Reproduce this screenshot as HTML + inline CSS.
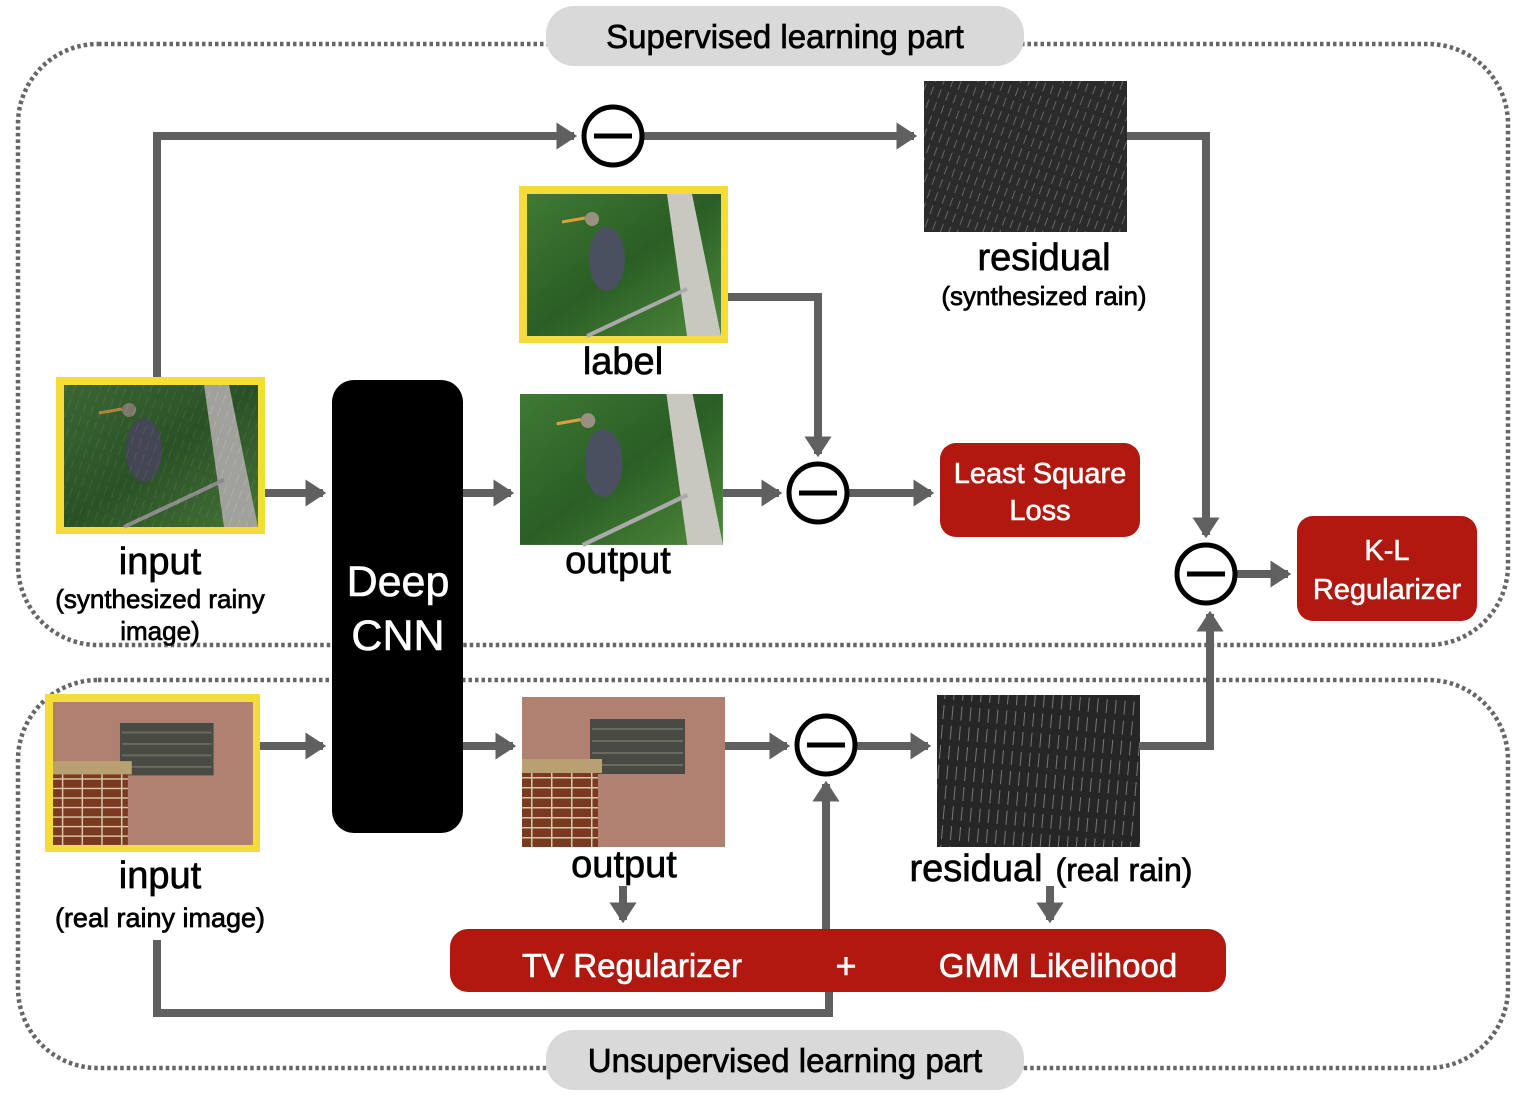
<!DOCTYPE html>
<html><head><meta charset="utf-8"><style>
html,body{margin:0;padding:0;background:#fff;}
svg{display:block;font-family:"Liberation Sans",sans-serif;}
.b{stroke:#000;stroke-width:0.7;}
.w{stroke:#fff;stroke-width:0.6;}
</style></head><body>
<svg width="1522" height="1098" viewBox="0 0 1522 1098" xmlns="http://www.w3.org/2000/svg">
<defs>
<marker id="ah" markerWidth="4" markerHeight="4" refX="2.2" refY="2" orient="auto" markerUnits="strokeWidth">
<path d="M0,0.3 L2.6,2 L0,3.7 z" fill="#606060"/></marker>
<linearGradient id="grn" x1="0" y1="0" x2="1" y2="1"><stop offset="0" stop-color="#3f7a34"/><stop offset="0.5" stop-color="#2a5e25"/><stop offset="1" stop-color="#4f8a3c"/></linearGradient>
<pattern id="rain" width="8" height="14" patternUnits="userSpaceOnUse" patternTransform="rotate(20)"><rect width="8" height="14" fill="#2b2b2b"/><line x1="3" y1="0" x2="3" y2="9" stroke="#666" stroke-width="1"/></pattern>
<pattern id="rain2" width="9" height="20" patternUnits="userSpaceOnUse" patternTransform="rotate(5)"><rect width="9" height="20" fill="#262626"/><line x1="3" y1="0" x2="3" y2="14" stroke="#777" stroke-width="1"/></pattern>
<pattern id="brick" width="20" height="10" patternUnits="userSpaceOnUse"><rect width="20" height="10" fill="#7a3a22"/><rect x="0" y="0" width="20" height="1.5" fill="#d8c8a8"/><rect x="9" y="0" width="1.5" height="10" fill="#d8c8a8"/></pattern>
<g id="bird">
<rect width="194" height="142" fill="url(#grn)"/>
<polygon points="140,0 165,0 194,142 160,142" fill="#c8c8c0"/>
<ellipse cx="80" cy="65" rx="18" ry="32" fill="#4a5060"/>
<circle cx="65" cy="25" r="7" fill="#9a9080"/>
<line x1="58" y1="24" x2="35" y2="28" stroke="#d8a040" stroke-width="3"/>
<line x1="60" y1="142" x2="160" y2="95" stroke="#aaa" stroke-width="4"/>
</g>
<g id="brickimg">
<rect width="203" height="150" fill="#b08070"/>
<rect x="68" y="22" width="95" height="55" fill="#4a4a44"/>
<g stroke="#6a6a60" stroke-width="2"><line x1="70" y1="32" x2="161" y2="32"/><line x1="70" y1="44" x2="161" y2="44"/><line x1="70" y1="56" x2="161" y2="56"/><line x1="70" y1="68" x2="161" y2="68"/></g>
<rect x="0" y="62" width="80" height="14" fill="#b8a070"/>
<rect x="0" y="76" width="76" height="74" fill="url(#brick)"/>
</g>
</defs>

<rect x="18" y="44" width="1490" height="601" rx="80" fill="none" stroke="#666" stroke-width="4.5" stroke-dasharray="3.5 3"/>
<rect x="18" y="680" width="1490" height="388" rx="80" fill="none" stroke="#666" stroke-width="4.5" stroke-dasharray="3.5 3"/>

<rect x="546" y="6" width="478" height="60" rx="28" fill="#d9d9d9"/>
<text x="785" y="48" font-size="33" text-anchor="middle" fill="#000" class="b">Supervised learning part</text>
<rect x="546" y="1030" width="478" height="60" rx="28" fill="#d9d9d9"/>
<text x="785" y="1072" font-size="33" text-anchor="middle" fill="#000" class="b">Unsupervised learning part</text>

<g stroke="#606060" stroke-width="8" fill="none">
<polyline points="157,377 157,136 574,136" marker-end="url(#ah)"/>
<line x1="644" y1="136" x2="914" y2="136" marker-end="url(#ah)"/>
<polyline points="1127,136 1206,136 1206,535" marker-end="url(#ah)"/>
<polyline points="728,297 818,297 818,454" marker-end="url(#ah)"/>
<line x1="265" y1="493" x2="323" y2="493" marker-end="url(#ah)"/>
<line x1="463" y1="493" x2="511" y2="493" marker-end="url(#ah)"/>
<line x1="723" y1="493" x2="779" y2="493" marker-end="url(#ah)"/>
<line x1="849" y1="493" x2="931" y2="493" marker-end="url(#ah)"/>
<line x1="1237" y1="574" x2="1288" y2="574" marker-end="url(#ah)"/>
<line x1="260" y1="746" x2="323" y2="746" marker-end="url(#ah)"/>
<line x1="463" y1="746" x2="513" y2="746" marker-end="url(#ah)"/>
<line x1="724" y1="746" x2="787" y2="746" marker-end="url(#ah)"/>
<line x1="857" y1="746" x2="928" y2="746" marker-end="url(#ah)"/>
<polyline points="1140,746 1210,746 1210,614" marker-end="url(#ah)"/>
<line x1="826" y1="929" x2="826" y2="784" marker-end="url(#ah)"/>
<polyline points="157,940 157,1013 829,1013 829,990"/>
<line x1="623" y1="886" x2="623" y2="920" marker-end="url(#ah)"/>
<line x1="1050" y1="886" x2="1050" y2="920" marker-end="url(#ah)"/>
</g>

<rect x="56" y="377" width="209" height="157" fill="#f5dc3a"/>
<use href="#bird" x="64" y="385"/>
<rect x="64" y="385" width="194" height="142" fill="url(#rain)" opacity="0.25"/>
<rect x="519" y="186" width="209" height="157" fill="#f5dc3a"/>
<use href="#bird" x="527" y="194"/>
<g transform="translate(520,394) scale(1.046,1.063)"><use href="#bird"/></g>
<rect x="924" y="81" width="203" height="151" fill="url(#rain)"/>
<rect x="45" y="694" width="215" height="158" fill="#f5dc3a"/>
<g transform="translate(53,702) scale(0.985,0.953)"><use href="#brickimg"/></g>
<use href="#brickimg" x="522" y="697"/>
<rect x="937" y="695" width="203" height="152" fill="url(#rain2)"/>

<rect x="332" y="380" width="131" height="453" rx="22" fill="#000"/>
<text x="398" y="596" font-size="43" text-anchor="middle" fill="#fff" class="w">Deep</text>
<text x="398" y="650" font-size="43" text-anchor="middle" fill="#fff" class="w">CNN</text>

<g fill="#fff" stroke="#000" stroke-width="5">
<circle cx="613" cy="136" r="29"/><circle cx="818" cy="493" r="29"/>
<circle cx="1206" cy="574" r="29"/><circle cx="826" cy="745" r="29"/>
</g>
<g stroke="#000" stroke-width="5">
<line x1="594" y1="136" x2="632" y2="136"/><line x1="799" y1="493" x2="837" y2="493"/>
<line x1="1187" y1="574" x2="1225" y2="574"/><line x1="807" y1="745" x2="845" y2="745"/>
</g>

<rect x="940" y="443" width="200" height="94" rx="16" fill="#b1180f"/>
<text x="1040" y="483" font-size="29" text-anchor="middle" fill="#fff" class="w">Least Square</text>
<text x="1040" y="520" font-size="29" text-anchor="middle" fill="#fff" class="w">Loss</text>
<rect x="1297" y="516" width="180" height="105" rx="16" fill="#b1180f"/>
<text x="1387" y="560" font-size="29" text-anchor="middle" fill="#fff" class="w">K-L</text>
<text x="1387" y="599" font-size="29" text-anchor="middle" fill="#fff" class="w">Regularizer</text>
<rect x="450" y="929" width="776" height="63" rx="18" fill="#b1180f"/>
<text x="632" y="977" font-size="33" text-anchor="middle" fill="#fff" class="w">TV Regularizer</text>
<text x="846" y="978" font-size="36" text-anchor="middle" fill="#fff" class="w">+</text>
<text x="1058" y="977" font-size="33" text-anchor="middle" fill="#fff" class="w">GMM Likelihood</text>

<g fill="#000" text-anchor="middle" class="b">
<text x="1044" y="270" font-size="38">residual</text>
<text x="1044" y="305" font-size="26">(synthesized rain)</text>
<text x="623" y="374" font-size="38">label</text>
<text x="618" y="573" font-size="38">output</text>
<text x="160" y="574" font-size="38">input</text>
<text x="160" y="608" font-size="26">(synthesized rainy</text>
<text x="160" y="640" font-size="26">image)</text>
<text x="160" y="888" font-size="38">input</text>
<text x="160" y="927" font-size="27">(real rainy image)</text>
<text x="624" y="877" font-size="38">output</text>
<text x="976" y="881" font-size="38">residual</text>
<text x="1124" y="881" font-size="32">(real rain)</text>
</g>
</svg>
</body></html>
